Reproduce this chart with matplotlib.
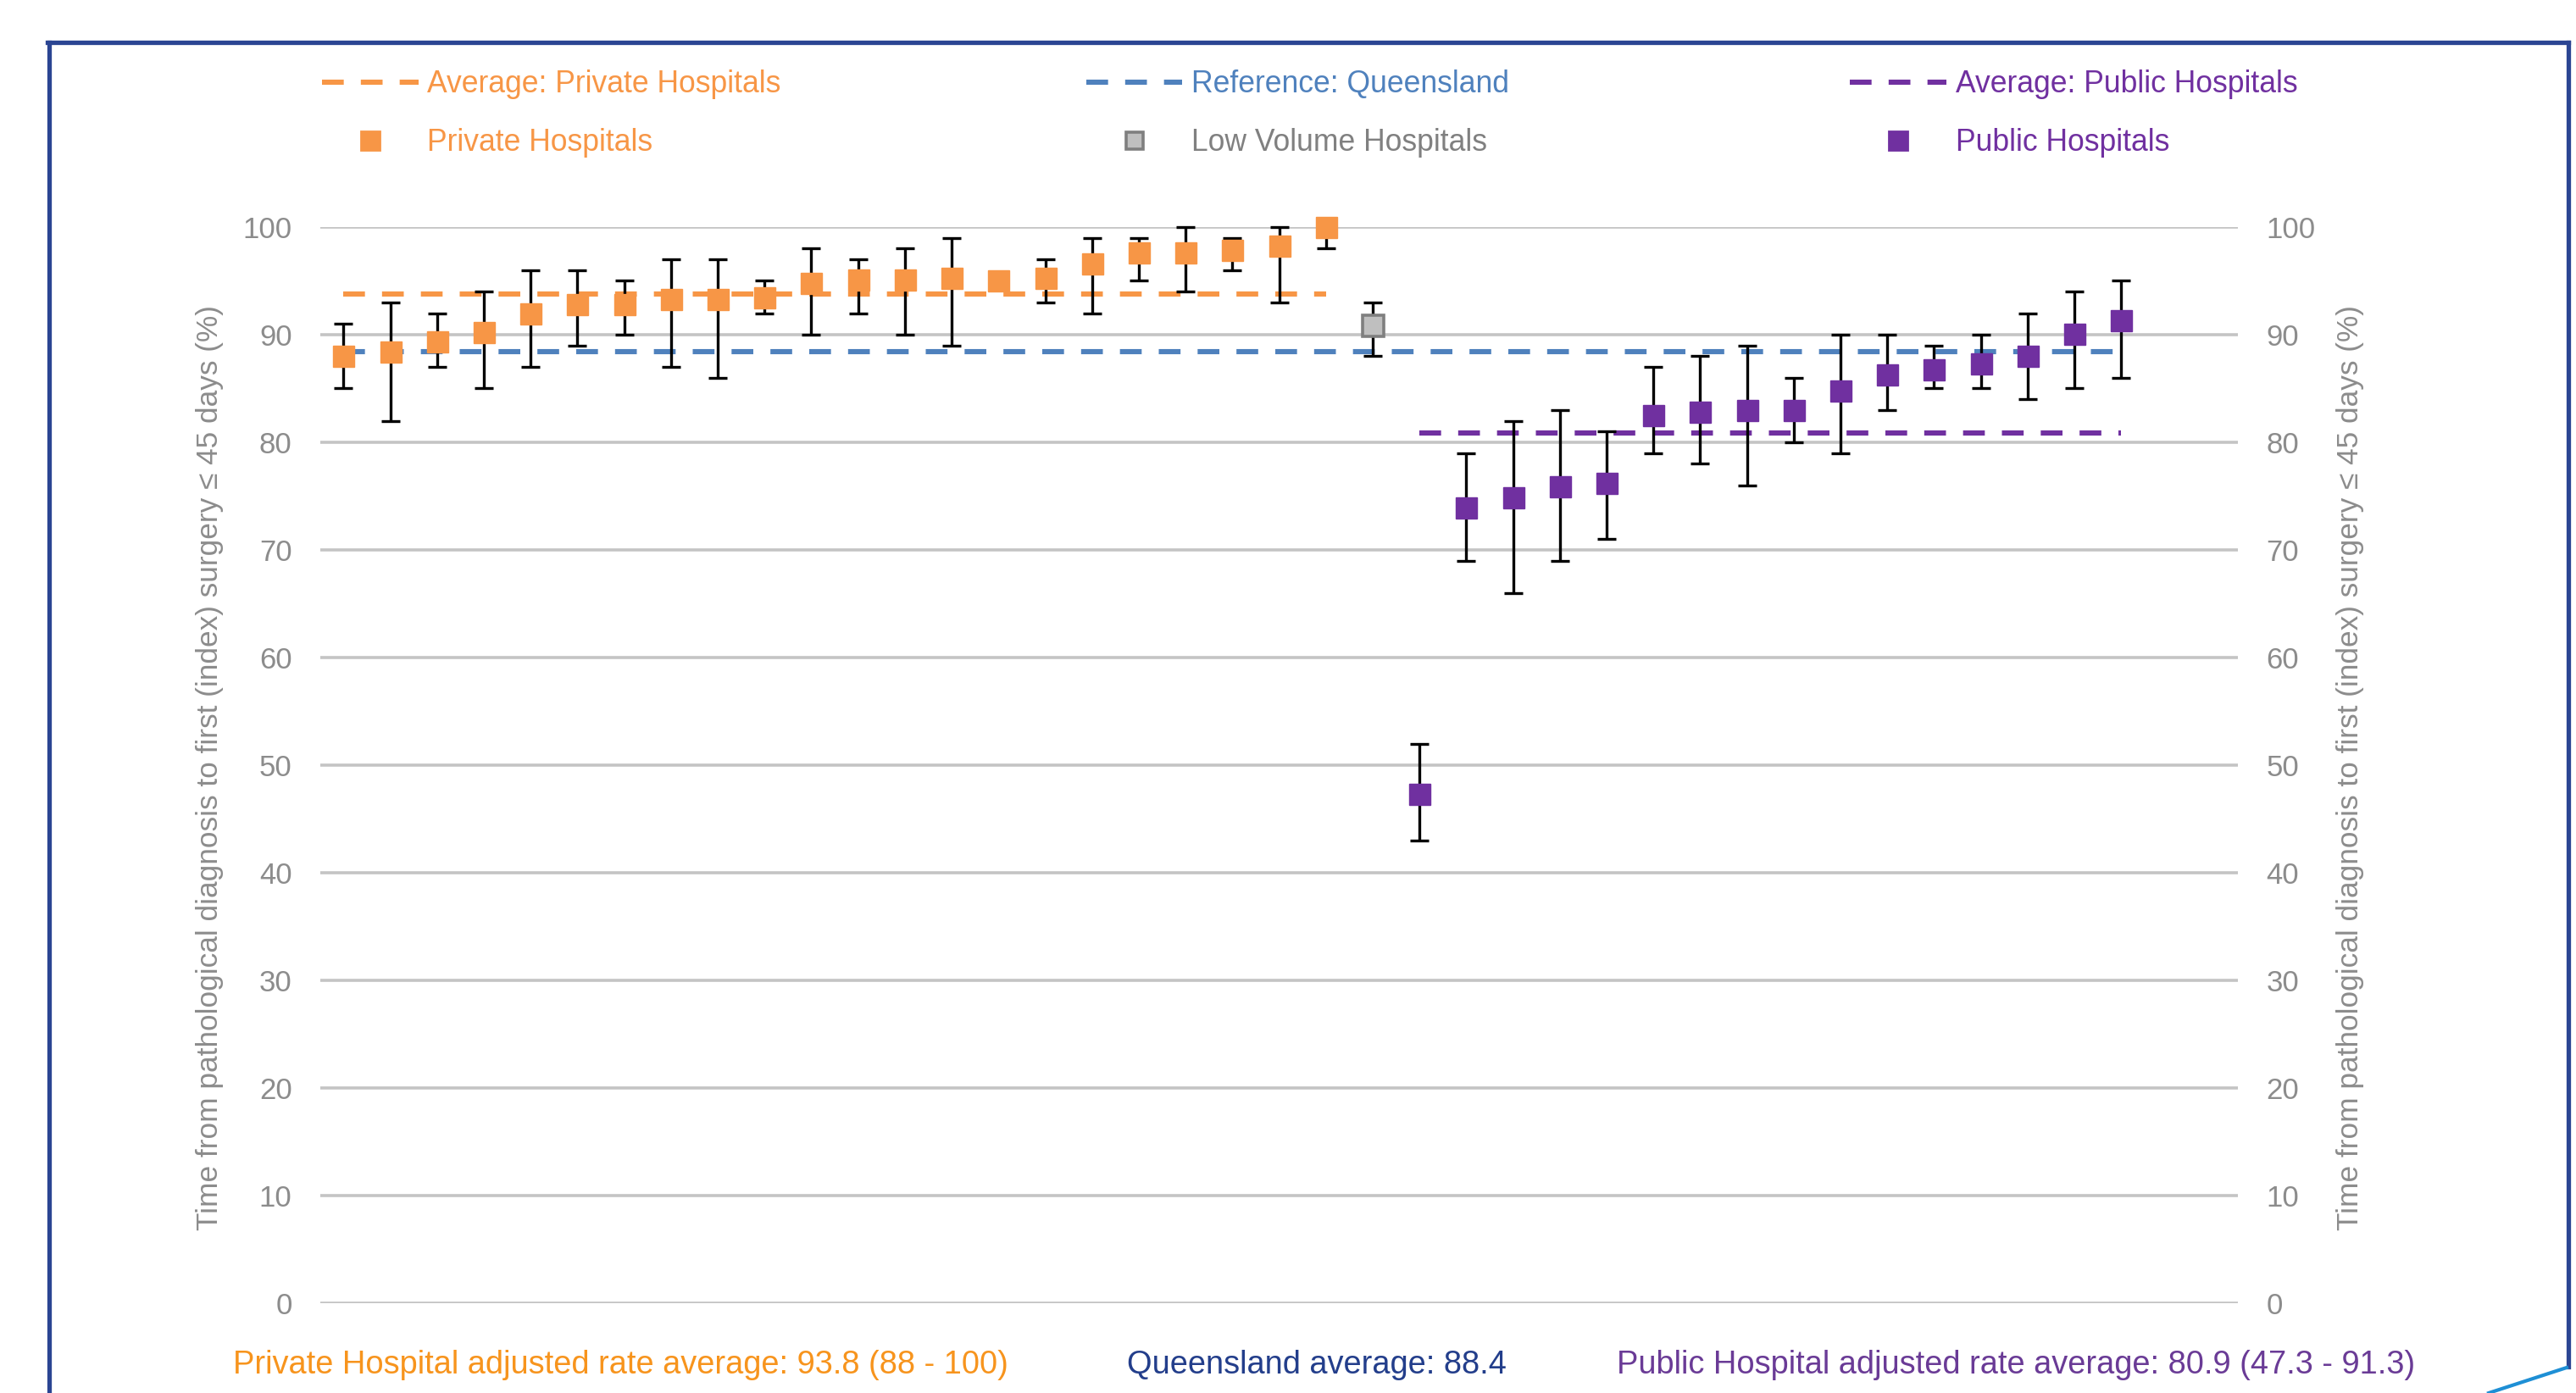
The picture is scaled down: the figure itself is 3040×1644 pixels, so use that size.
import matplotlib
matplotlib.use("Agg")
import matplotlib.pyplot as plt
from matplotlib.lines import Line2D
import numpy as np

# ---------------- data ----------------
private_rate = [88.0, 88.4, 89.4, 90.2, 92.0, 92.8, 92.8, 93.3, 93.3, 93.5, 94.8,
                95.1, 95.1, 95.3, 95.0, 95.3, 96.6, 97.6, 97.6, 97.9, 98.3, 100.0]
private_lo = [85, 82, 87, 85, 87, 89, 90, 87, 86, 92, 90,
              92, 90, 89, 95, 93, 92, 95, 94, 96, 93, 98]
private_hi = [91, 93, 92, 94, 96, 96, 95, 97, 97, 95, 98,
              97, 98, 99, 95, 97, 99, 99, 100, 99, 100, 100]

lowvol_rate = [90.9]
lowvol_lo = [88]
lowvol_hi = [93]

public_rate = [47.3, 73.9, 74.9, 75.9, 76.2, 82.5, 82.8, 83.0, 83.0, 84.8,
               86.3, 86.8, 87.3, 88.0, 90.1, 91.3]
public_lo = [43, 69, 66, 69, 71, 79, 78, 76, 80, 79, 83, 85, 85, 84, 85, 86]
public_hi = [52, 79, 82, 83, 81, 87, 88, 89, 86, 90, 90, 89, 90, 92, 94, 95]

private_avg = 93.8
queensland_avg = 88.4
public_avg = 80.9
n_slots = 41

y_ticks = [0, 10, 20, 30, 40, 50, 60, 70, 80, 90, 100]
y_label = "Time from pathological diagnosis to first (index) surgery \u2264 45 days (%)"

legend_labels = ["Average: Private Hospitals", "Private Hospitals",
                 "Reference: Queensland", "Low Volume Hospitals",
                 "Average: Public Hospitals", "Public Hospitals"]
bottom_texts = ["Private Hospital adjusted rate average: 93.8 (88 - 100)",
                "Queensland average: 88.4",
                "Public Hospital adjusted rate average: 80.9 (47.3 - 91.3)"]

# ---------------- style ----------------
C_OR = "#F79646"
C_BL = "#4F81BD"
C_PU = "#7030A0"
C_GR = "#BFBFBF"
C_GR_E = "#7F7F7F"
C_TICK = "#8C8C8C"
C_FRAME = "#2B4593"
FONT = ["Liberation Sans", "DejaVu Sans"]

plt.rcParams["font.family"] = FONT

fig = plt.figure(figsize=(15.2, 8.22), dpi=200)
ax = fig.add_axes([0.1243, 0.0645, 0.8688 - 0.1243, 0.837 - 0.0645])

n_priv = len(private_rate)
x_priv = np.arange(n_priv)
x_low = np.arange(n_priv, n_priv + len(lowvol_rate))
x_pub = np.arange(n_priv + len(lowvol_rate),
                  n_priv + len(lowvol_rate) + len(public_rate))

dash = (4.2, 3.3)
ax.plot([x_priv[0], x_priv[-1]], [private_avg] * 2, color=C_OR, lw=2.2,
        dashes=dash, zorder=2)
ax.plot([x_priv[0], x_pub[-1]], [queensland_avg] * 2, color=C_BL, lw=2.2,
        dashes=dash, zorder=2)
ax.plot([x_pub[0], x_pub[-1]], [public_avg] * 2, color=C_PU, lw=2.2,
        dashes=dash, zorder=2)


def series(x, rate, lo, hi, fc, ec, ew):
    rate = np.asarray(rate, float)
    err = [rate - np.asarray(lo, float), np.asarray(hi, float) - rate]
    ax.errorbar(x, rate, yerr=err, fmt="none", ecolor="black", elinewidth=1.2,
                capsize=3.8, capthick=1.2, zorder=3, clip_on=False)
    ax.plot(x, rate, ls="none", marker="s", markersize=9, markerfacecolor=fc,
            markeredgecolor=ec, markeredgewidth=ew, zorder=4, clip_on=False)


series(x_priv, private_rate, private_lo, private_hi, C_OR, C_OR, 0.5)
series(x_low, lowvol_rate, lowvol_lo, lowvol_hi, C_GR, C_GR_E, 1.3)
series(x_pub, public_rate, public_lo, public_hi, C_PU, C_PU, 0.5)

ax.set_xlim(-0.5, n_slots - 0.5)
ax.set_ylim(0, 100)
ax.set_yticks(y_ticks)
ax.set_xticks([])
ax.yaxis.grid(True, color="#C4C4C4", lw=1.3, zorder=0)
ax.set_axisbelow(True)
for s in ax.spines.values():
    s.set_visible(False)
ax.tick_params(axis="y", length=0, pad=12, labelsize=12.5, labelcolor=C_TICK,
               left=False, right=False, labelleft=True, labelright=True)

fig.text(0.0815, 0.449, y_label, rotation=90, ha="center", va="center",
         fontsize=12.7, color=C_TICK)
fig.text(0.9122, 0.449, y_label, rotation=90, ha="center", va="center",
         fontsize=12.7, color=C_TICK)

# ---------------- legends ----------------
h_or_l = Line2D([], [], color=C_OR, lw=2.2, dashes=dash)
h_or_m = Line2D([], [], ls="none", marker="s", markersize=8, color=C_OR)
h_bl_l = Line2D([], [], color=C_BL, lw=2.2, dashes=dash)
h_gr_m = Line2D([], [], ls="none", marker="s", markersize=7.5,
                markerfacecolor=C_GR, markeredgecolor=C_GR_E, markeredgewidth=1.3)
h_pu_l = Line2D([], [], color=C_PU, lw=2.2, dashes=dash)
h_pu_m = Line2D([], [], ls="none", marker="s", markersize=8, color=C_PU)

groups = [([h_or_l, h_or_m], legend_labels[0:2], [C_OR, C_OR], 0.1250),
          ([h_bl_l, h_gr_m], legend_labels[2:4], [C_BL, "#808080"], 0.4216),
          ([h_pu_l, h_pu_m], legend_labels[4:6], [C_PU, C_PU], 0.7182)]
for hs, labs, cols, x0 in groups:
    fig.legend(hs, labs, loc="upper left", bbox_to_anchor=(x0, 0.950),
               frameon=False, fontsize=12.8, handlelength=3.2, handletextpad=0.3,
               labelspacing=0.96, labelcolor=cols, borderaxespad=0, borderpad=0)

# ---------------- bottom text ----------------
fig.text(0.0906, 0.020, bottom_texts[0], color="#F7941D", fontsize=13.7,
         ha="left", va="center")
fig.text(0.4376, 0.020, bottom_texts[1], color="#233E8B", fontsize=13.7,
         ha="left", va="center")
fig.text(0.6276, 0.020, bottom_texts[2], color="#6A3B96", fontsize=13.7,
         ha="left", va="center")

# ---------------- frame ----------------
W, H = 3040.0, 1644.0
fx = lambda p: p / W
fy = lambda p: 1 - p / H
fig.add_artist(Line2D([fx(58), fx(58)], [fy(50), 0], color=C_FRAME, lw=1.9,
                      transform=fig.transFigure))
fig.add_artist(Line2D([fx(56), fx(3031)], [fy(50), fy(50)], color=C_FRAME, lw=1.9,
                      transform=fig.transFigure))
fig.add_artist(Line2D([fx(3031), fx(3031)], [fy(50), fy(1613)], color=C_FRAME,
                      lw=1.9, transform=fig.transFigure))
fig.add_artist(Line2D([fx(3029), fx(2937)], [fy(1614), 0], color="#1E8FD5",
                      lw=1.5, transform=fig.transFigure))

fig.savefig("out.png", dpi=200, facecolor="white")
